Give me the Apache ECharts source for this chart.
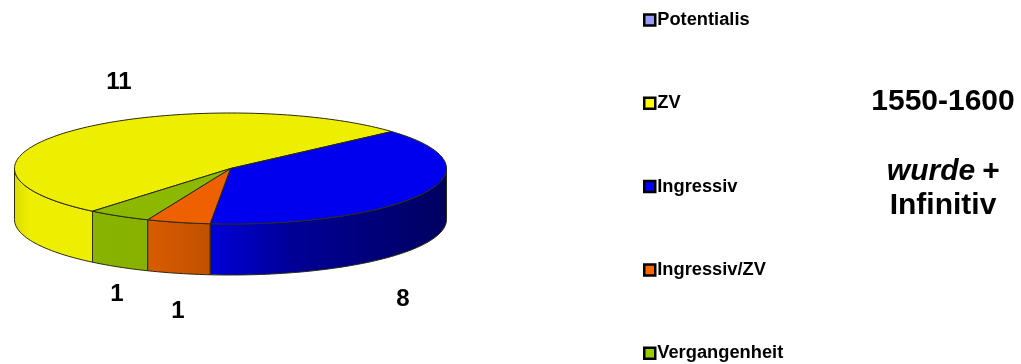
<!DOCTYPE html>
<html>
<head>
<meta charset="utf-8">
<style>html,body{margin:0;padding:0;background:#fff}#c{width:1021px;height:364px}</style>
<script src="https://cdn.jsdelivr.net/npm/echarts@6/dist/echarts.min.js"></script>
</head>
<body>
<div id="c"></div>
<script>
// data
const categories = ['Potentialis', 'ZV', 'Ingressiv', 'Ingressiv/ZV', 'Vergangenheit'];
const counts = [0, 11, 8, 1, 1];
// styles
const legendColors = ['#9999ff', '#ffff00', '#0000ff', '#ff6600', '#99cc00'];
const topColors = ['#8c8cee', '#eeee00', '#0000ee', '#ee6000', '#8cb800'];
const sideStops = [
  ['#8080d0', '#8080d0'],
  ['#dcdc00', '#eeee00', '#eeee00', '#eeee00', '#eeee00', '#eeee00'],
  ['#0000d8', '#000098', '#00007c', '#000060'],
  ['#da5c00', '#c05000'],
  ['#88b400', '#88b000']
];
const labelAnchors = [null, [119, 82], [403, 299], [178, 311], [117, 294]];
// geometry
const CX = 230.5, CY = 168.5, RX = 216, RY = 55.5, DEPTH = 51, START_DEG = 230.3;
const FONT = '"Liberation Sans", Arial, sans-serif';
const total = counts.reduce((a, b) => a + b, 0);
const rad = d => d * Math.PI / 180;
const px = d => CX + RX * Math.cos(rad(d));
const py = (d, off) => CY - RY * Math.sin(rad(d)) + (off || 0);
function arcPts(from, to, off) {
  const n = Math.max(2, Math.ceil(Math.abs(from - to) / 1.5));
  const out = [];
  for (let i = 0; i <= n; i++) {
    const a = from + (to - from) * i / n;
    out.push([px(a), py(a, off)]);
  }
  return out;
}
// Angles run clockwise from START_DEG; the slice begins where the previous one ended.
function sliceRange(idx) {
  let before = 0;
  for (let i = 0; i < idx; i++) before += counts[i];
  return [START_DEG - before / total * 360, START_DEG - (before + counts[idx]) / total * 360];
}
function renderSlice(params, api) {
  const idx = params.seriesIndex;
  const v = api.value(0);
  if (!v) return { type: 'group', children: [] };
  const [from, to] = sliceRange(idx);
  const children = [];
  // visible front wall: the parts of the arc where sin(angle) < 0
  for (const k of [0, -1]) {
    const lo = 180 + 360 * k, hi = 360 + 360 * k;
    const a = Math.min(from, hi), b = Math.max(to, lo);
    if (a > b) {
      const stops = sideStops[idx];
      const top = arcPts(a, b, 0), bot = arcPts(b, a, DEPTH);
      children.push({
        type: 'polygon',
        shape: { points: top.concat(bot) },
        style: {
          fill: new echarts.graphic.LinearGradient(0, 0, 1, 0,
            stops.map((c, i) => ({ offset: i / (stops.length - 1), color: c }))),
          stroke: '#2a2a10', lineWidth: 1, lineJoin: 'round'
        }
      });
    }
  }
  children.push({
    type: 'polygon',
    shape: { points: [[CX, CY]].concat(arcPts(from, to, 0)) },
    style: { fill: topColors[idx], stroke: '#2a2a10', lineWidth: 1, lineJoin: 'round' }
  });
  const anc = labelAnchors[idx];
  children.push({
    type: 'text',
    x: anc[0], y: anc[1],
    style: {
      text: String(v), fill: '#000', font: 'bold 24px ' + FONT,
      align: 'center', verticalAlign: 'middle'
    },
    z2: 10
  });
  return { type: 'group', children };
}
const chart = echarts.init(document.getElementById('c'), null, { renderer: 'canvas' });
chart.setOption({
  animation: false,
  backgroundColor: '#fff',
  title: [
    { text: '1550-1600', left: 943, top: 87, textAlign: 'center', padding: 0,
      textStyle: { fontFamily: FONT, fontWeight: 'bold', fontSize: 30, color: '#000', lineHeight: 30 } },
    { text: 'wurde', left: 931, top: 157, textAlign: 'center', padding: 0,
      textStyle: { fontFamily: FONT, fontWeight: 'bold', fontStyle: 'italic', fontSize: 30, color: '#000', lineHeight: 30 } },
    { text: '+', left: 991, top: 157, textAlign: 'center', padding: 0,
      textStyle: { fontFamily: FONT, fontWeight: 'bold', fontSize: 30, color: '#000', lineHeight: 30 } },
    { text: 'Infinitiv', left: 943, top: 191, textAlign: 'center', padding: 0,
      textStyle: { fontFamily: FONT, fontWeight: 'bold', fontSize: 30, color: '#000', lineHeight: 30 } }
  ],
  legend: {
    orient: 'vertical', left: 643, top: 11, padding: 0,
    itemWidth: 11, itemHeight: 11, itemGap: 65.3, align: 'left',
    icon: 'rect',
    data: categories,
    itemStyle: { borderColor: '#000', borderWidth: 2.5 },
    textStyle: { fontFamily: FONT, fontWeight: 'bold', fontSize: 18.3, color: '#000', padding: [0, 0, 0, -3], lineHeight: 18 },
    selectedMode: false
  },
  series: categories.map((name, i) => ({
    type: 'custom',
    name,
    coordinateSystem: 'none',
    itemStyle: { color: legendColors[i] },
    renderItem: renderSlice,
    data: [[counts[i]]]
  }))
});
</script>
</body>
</html>
